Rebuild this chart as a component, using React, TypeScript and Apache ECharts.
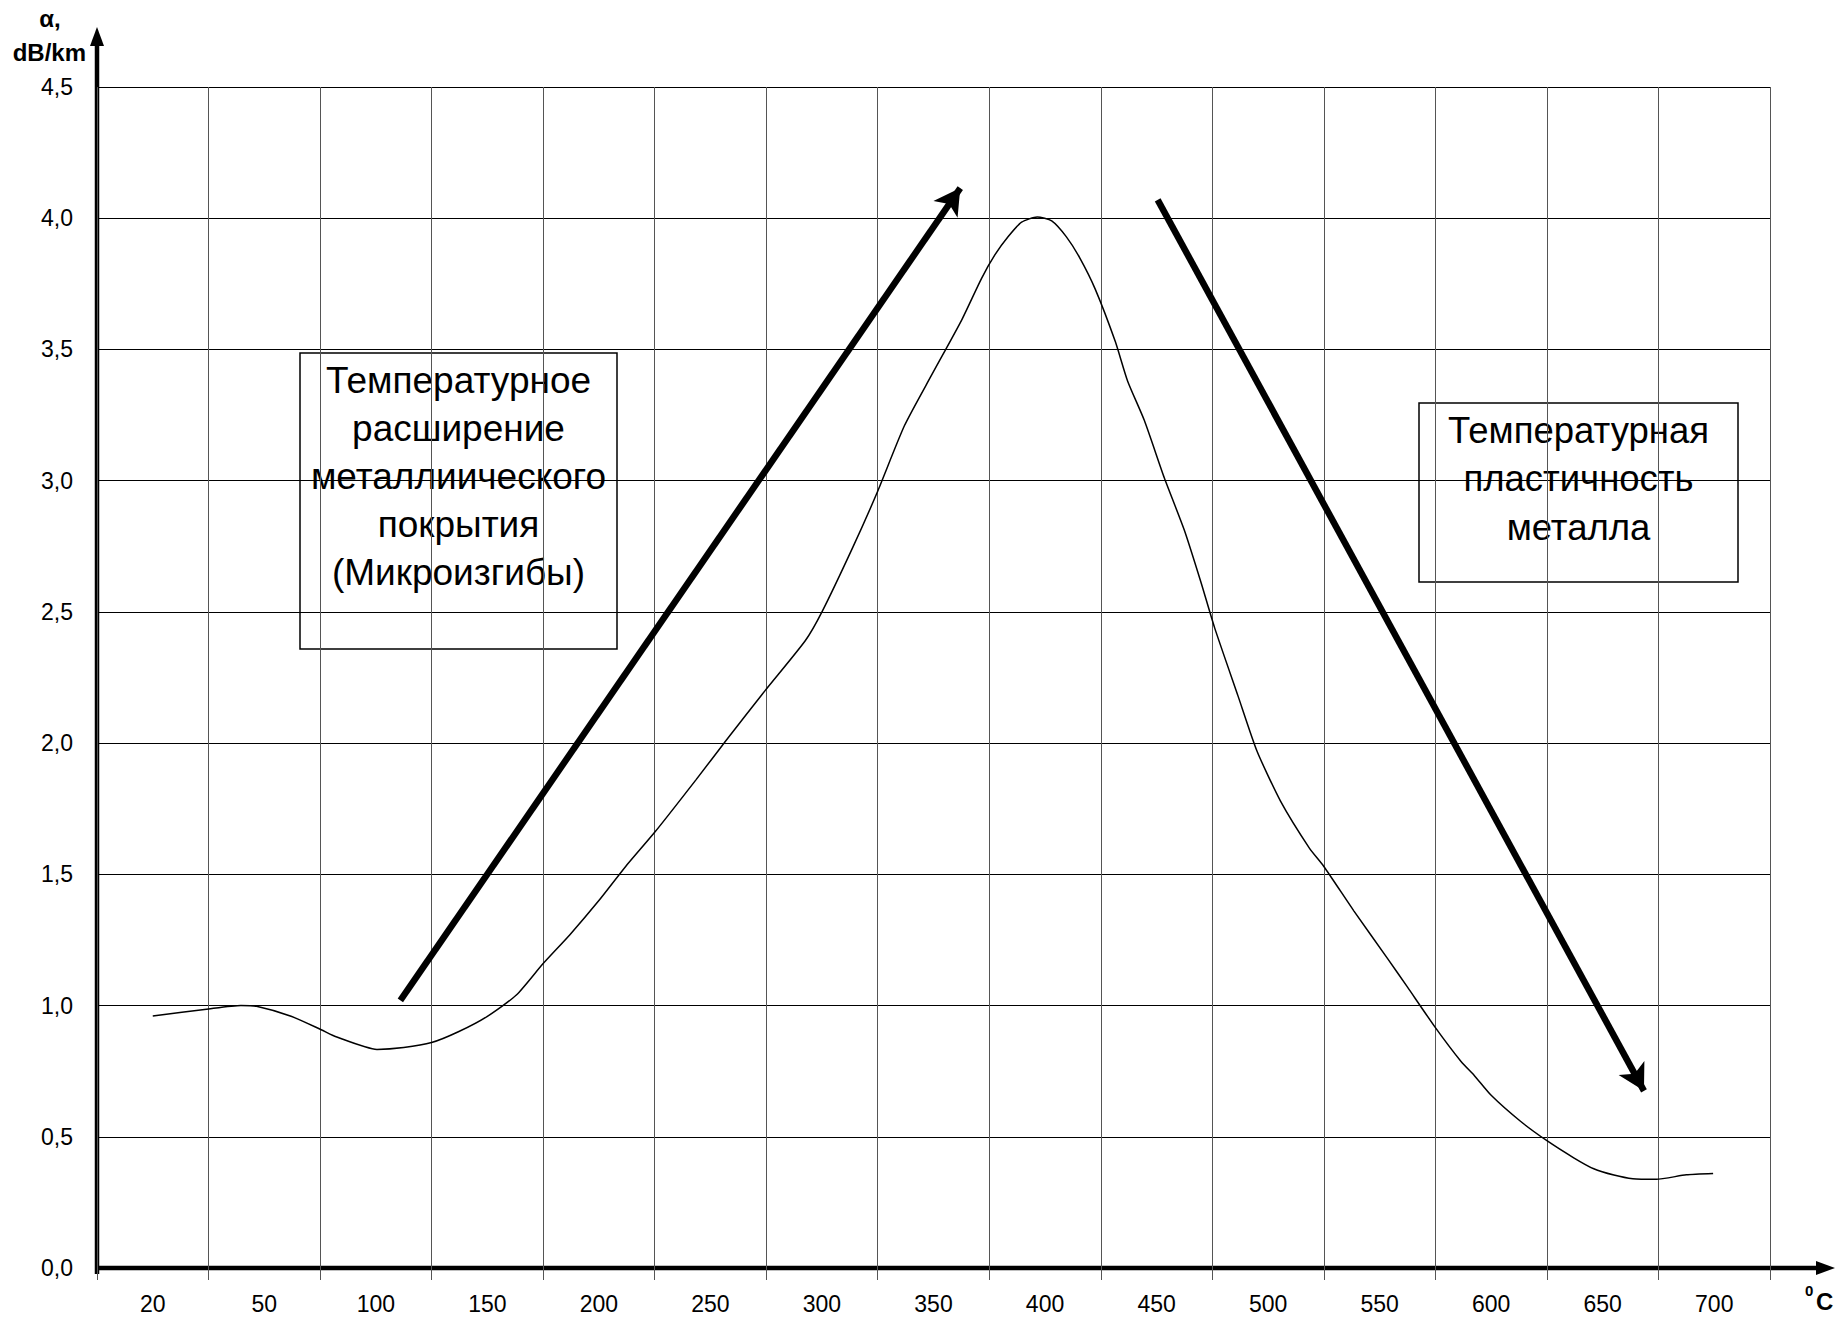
import React, { useEffect, useRef } from "react";
import * as echarts from "echarts";

// ---- data ----
const temperatureLabels = ["20", "50", "100", "150", "200", "250", "300", "350", "400", "450", "500", "550", "600", "650", "700"];

// curve sampled in category-index units (0 = "20", 14 = "700")
const curvePos = [
  0.0, 0.5, 0.79, 0.93, 1.24, 1.51, 1.65, 2.01, 2.25, 2.5, 2.74, 3.0, 3.26, 3.5, 3.74, 4.0,
  4.24, 4.5, 4.87, 5.14, 5.49, 5.85, 6.0, 6.27, 6.49, 6.74, 6.98, 7.25, 7.43, 7.55, 7.67,
  7.79, 7.93, 8.06, 8.19, 8.31, 8.45, 8.63, 8.74, 8.89, 9.07, 9.25, 9.4, 9.52, 9.73, 9.9,
  10.11, 10.37, 10.5, 10.77, 11.07, 11.25, 11.5, 11.73, 11.85, 12.0, 12.26, 12.5, 12.74,
  12.92, 13.1, 13.27, 13.48, 13.75, 13.99,
];
const curveAlpha = [
  0.96, 0.987, 1.0, 0.997, 0.959, 0.908, 0.88, 0.833, 0.84, 0.859, 0.9, 0.959, 1.04, 1.16, 1.27, 1.4,
  1.53, 1.66, 1.86, 2.01, 2.2, 2.39, 2.5, 2.74, 2.95, 3.21, 3.4, 3.61, 3.77, 3.86, 3.93,
  3.985, 4.005, 3.99, 3.93, 3.85, 3.73, 3.53, 3.38, 3.23, 3.01, 2.81, 2.61, 2.44, 2.18, 1.97,
  1.78, 1.6, 1.53, 1.36, 1.18, 1.07, 0.916, 0.787, 0.733, 0.658, 0.56, 0.485, 0.42,
  0.378, 0.354, 0.34, 0.338, 0.355, 0.36,
];

const yMin = 0;
const yMax = 4.5;
const yStep = 0.5;

// annotation arrows (category-index, alpha): [start, tip]
const arrowUp = [[2.22, 1.02], [7.24, 4.115]];
const arrowDown = [[9.01, 4.07], [13.37, 0.675]];

const boxLeftText = "Температурное\nрасширение\nметаллиического\nпокрытия\n(Микроизгибы)";
const boxRightText = "Температурная\nпластичность\nметалла";

// ---- layout ----
const W = 1840;
const H = 1322;
const GRID = { left: 97, top: 87, right: 70, bottom: 54 };
const FONT = '"Liberation Sans", Arial, sans-serif';

export default function App() {
  const ref = useRef<HTMLDivElement>(null);

  useEffect(() => {
    document.body.style.margin = "0";
    const chart = echarts.init(ref.current!, null, { renderer: "svg" });
    const axisX = GRID.left;
    const axisY = H - GRID.bottom;

    const option: any = {
      animation: false,
      backgroundColor: "#fff",
      grid: { left: GRID.left, top: GRID.top, right: GRID.right, bottom: GRID.bottom, containLabel: false },
      xAxis: [
        {
          type: "category",
          data: temperatureLabels,
          boundaryGap: true,
          axisLine: { show: false },
          axisTick: { show: true, interval: 0, length: 12, lineStyle: { color: "#555", width: 1 } },
          splitLine: { show: true, interval: 0, lineStyle: { color: "#555", width: 1 } },
          axisLabel: { interval: 0, fontSize: 23, color: "#000", fontFamily: FONT, margin: 24 },
        },
        { type: "value", min: -0.5, max: 14.5, show: false },
      ],
      yAxis: {
        type: "value",
        min: yMin,
        max: yMax,
        interval: yStep,
        axisLine: { show: false },
        axisTick: { show: true, length: 12, lineStyle: { color: "#000", width: 1 } },
        splitLine: { show: true, lineStyle: { color: "#000", width: 1 } },
        axisLabel: {
          fontSize: 23,
          color: "#000",
          fontFamily: FONT,
          margin: 24,
          formatter: (v: number) => v.toFixed(1).replace(".", ","),
        },
      },
      series: [
        {
          type: "line",
          xAxisIndex: 1,
          data: curvePos.map((p, i) => [p, curveAlpha[i]]),
          showSymbol: false,
          smooth: 0.2,
          silent: true,
          lineStyle: { color: "#000", width: 1.5 },
          markLine: {
            silent: true,
            symbol: ["none", "arrow"],
            symbolSize: [22, 26],
            label: { show: false },
            lineStyle: { color: "#000", width: 6.5, type: "solid" },
            data: [
              [{ coord: arrowUp[0] }, { coord: arrowUp[1] }],
              [{ coord: arrowDown[0] }, { coord: arrowDown[1] }],
            ],
          },
        },
      ],
      graphic: [
        // thick axes with arrows
        { type: "line", shape: { x1: axisX, y1: axisY + 6, x2: axisX, y2: 42 }, style: { stroke: "#000", lineWidth: 4.5 } },
        { type: "polygon", shape: { points: [[axisX, 27], [axisX - 7, 46], [axisX + 7, 46]] }, style: { fill: "#000" } },
        { type: "line", shape: { x1: axisX - 2, y1: axisY, x2: 1820, y2: axisY }, style: { stroke: "#000", lineWidth: 4.5 } },
        { type: "polygon", shape: { points: [[1835, axisY], [1816, axisY - 7], [1816, axisY + 7]] }, style: { fill: "#000" } },
        // axis names
        { type: "text", x: 50, y: 18, style: { text: "α,", font: `bold 24px ${FONT}`, fill: "#000", align: "center", verticalAlign: "middle" } },
        { type: "text", x: 86, y: 52, style: { text: "dB/km", font: `bold 24px ${FONT}`, fill: "#000", align: "right", verticalAlign: "middle" } },
        { type: "text", x: 1805, y: 1290, style: { text: "0", font: `bold 15px ${FONT}`, fill: "#000", align: "left", verticalAlign: "middle" } },
        { type: "text", x: 1816, y: 1301, style: { text: "C", font: `bold 24px ${FONT}`, fill: "#000", align: "left", verticalAlign: "middle" } },
        // annotation boxes
        { type: "rect", shape: { x: 300, y: 353, width: 317, height: 296 }, style: { fill: "#fff", stroke: "#000", lineWidth: 1.5 } },
        { type: "text", x: 458.5, y: 356, style: { text: boxLeftText, font: `37px ${FONT}`, fill: "#000", align: "center", verticalAlign: "top", lineHeight: 48 } },
        { type: "rect", shape: { x: 1419, y: 403, width: 319, height: 179 }, style: { fill: "#fff", stroke: "#000", lineWidth: 1.5 } },
        { type: "text", x: 1578.5, y: 406, style: { text: boxRightText, font: `36.5px ${FONT}`, fill: "#000", align: "center", verticalAlign: "top", lineHeight: 48.5 } },
      ],
    };
    chart.setOption(option);
    return () => chart.dispose();
  }, []);

  return (
    <div
      ref={ref}
      style={{ position: "fixed", left: 0, top: 0, width: W, height: H, background: "#fff" }}
    />
  );
}
